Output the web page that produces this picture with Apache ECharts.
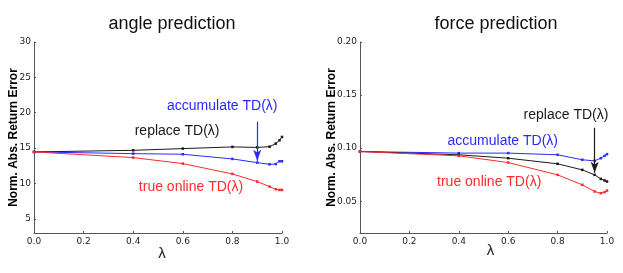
<!DOCTYPE html>
<html><head><meta charset="utf-8">
<script src="https://cdn.jsdelivr.net/npm/echarts@6/dist/echarts.min.js"></script>
<style>html,body{margin:0;padding:0;background:#fff}#c{width:623px;height:273px}</style>
</head><body><div id="c"></div>
<script>
const lambdas = [0, 0.4, 0.6, 0.8, 0.9, 0.95, 0.975, 0.99, 1.0];
const xTicks = [0, 0.2, 0.4, 0.6, 0.8, 1.0];

// angle prediction
const angleReplace    = [14.46, 14.69, 14.93, 15.17, 15.10, 15.20, 15.64, 16.10, 16.58];
const angleAccumulate = [14.46, 14.22, 14.13, 13.47, 12.95, 12.71, 12.75, 13.14, 13.14];
const angleTrueOnline = [14.46, 13.66, 12.81, 11.35, 10.27, 9.56, 9.18, 9.09, 9.09];
const angleYTicks = [5, 10, 15, 20, 25, 30];

// force prediction
const forceReplace    = [0.0968, 0.0937, 0.0905, 0.0852, 0.0795, 0.0748, 0.0710, 0.0695, 0.0685];
const forceAccumulate = [0.0968, 0.0953, 0.0953, 0.0937, 0.0890, 0.0880, 0.0905, 0.0927, 0.0943];
const forceTrueOnline = [0.0968, 0.0927, 0.0864, 0.0748, 0.0654, 0.0591, 0.0575, 0.0585, 0.0600];
const forceYTicks = [0.05, 0.10, 0.15, 0.20];

const BLUE = '#2a2aff', RED = '#ff2a2a', BLACK = '#1a1a1a';
const TXT = 'Liberation Sans, Arial, sans-serif';
const TICKF = 'DejaVu Sans, sans-serif';

function pairs(ys){ return lambdas.map((x,i)=>[x, ys[i]]); }

function label(x, y, text, color){
  return {coord:[x,y], symbol:'circle', symbolSize:0,
    label:{show:true, position:'inside', formatter:text, color:color, fontSize:14, fontFamily:TXT}};
}
function arrow(x, y0, y1, color){
  return {symbol:['none','arrow'], symbolSize:[6,11], silent:true, animation:false,
    lineStyle:{color:color, width:1.2, type:'solid'}, label:{show:false},
    data:[[{coord:[x,y0]},{coord:[x,y1]}]]};
}
function line(name, ys, color, xi, yi, extra){
  return Object.assign({
    name:name, type:'line', xAxisIndex:xi, yAxisIndex:yi, data:pairs(ys),
    symbol:'rect', symbolSize:2.5, showSymbol:true,
    lineStyle:{color:color, width:1}, itemStyle:{color:color},
    animation:false, z:3
  }, extra||{});
}

function xAxis(gi){
  return {type:'value', gridIndex:gi, min:0, max:1, interval:0.2,
    axisLine:{show:true, lineStyle:{color:'#555', width:1}},
    axisTick:{show:true, inside:true, length:2, lineStyle:{color:'#555'}},
    splitLine:{show:false},
    axisLabel:{color:'#222', fontSize:9, fontFamily:TICKF, margin:4, formatter:v=>v.toFixed(1)},
    name:'λ', nameLocation:'middle', nameGap: gi===0 ? 13 : 10, nameMoveOverlap:false,
    nameTextStyle:{color:'#222', fontSize:15, fontFamily:TXT, padding: gi===0 ? [0,0,0,8] : [0,0,0,14]}};
}
function yAxis(gi, min, max, ticks, dec, gap){
  return {type:'value', gridIndex:gi, min:min, max:max,
    axisLine:{show:true, lineStyle:{color:'#555', width:1}},
    axisTick:{show:true, inside:true, length:2, lineStyle:{color:'#555'}, customValues:ticks},
    splitLine:{show:false},
    axisLabel:{color:'#222', fontSize:9, fontFamily:TICKF, margin:3, customValues:ticks,
      formatter:v=>v.toFixed(dec)},
    name:'Norm. Abs. Return Error', nameLocation:'middle', nameGap:gap, nameMoveOverlap:false,
    nameTextStyle:{color:'#000', fontSize:12, fontWeight:'bold', fontFamily:TXT}};
}

const option = {
  backgroundColor:'#fff',
  animation:false,
  title:[
    {text:'angle prediction', left:167, top:10, textAlign:'center',
     textStyle:{fontSize:18, fontWeight:'normal', color:'#111', fontFamily:TXT}},
    {text:'force prediction', left:491, top:10, textAlign:'center',
     textStyle:{fontSize:18, fontWeight:'normal', color:'#111', fontFamily:TXT}}
  ],
  grid:[
    {left:34, right:341, top:42, bottom:40},
    {left:360, right:16, top:42, bottom:40}
  ],
  xAxis:[xAxis(0), xAxis(1)],
  yAxis:[yAxis(0, 3, 30, angleYTicks, 0, 14), yAxis(1, 0.02, 0.20, forceYTicks, 2, 22)],
  series:[
    line('replace TD(λ)', angleReplace, BLACK, 0, 0, {markPoint:{data:[label(0.577,17.33,'replace TD(λ)',BLACK)], animation:false}}),
    line('accumulate TD(λ)', angleAccumulate, BLUE, 0, 0, {
      markPoint:{data:[label(0.759,21.0,'accumulate TD(λ)',BLUE)], animation:false},
      markLine:arrow(0.9, 18.74, 13.2, BLUE)}),
    line('true online TD(λ)', angleTrueOnline, RED, 0, 0, {markPoint:{data:[label(0.633,9.42,'true online TD(λ)',RED)], animation:false}}),

    line('accumulate TD(λ)', forceAccumulate, BLUE, 1, 1, {markPoint:{data:[label(0.578,0.1062,'accumulate TD(λ)',BLUE)], animation:false}}),
    line('replace TD(λ)', forceReplace, BLACK, 1, 1, {
      markPoint:{data:[label(0.834,0.1314,'replace TD(λ)',BLACK)], animation:false},
      markLine:arrow(0.95, 0.1191, 0.0767, BLACK)}),
    line('true online TD(λ)', forceTrueOnline, RED, 1, 1, {markPoint:{data:[label(0.523,0.0675,'true online TD(λ)',RED)], animation:false}})
  ]
};
const chart = echarts.init(document.getElementById('c'), null, {renderer:'canvas'});
chart.setOption(option);
</script></body></html>
